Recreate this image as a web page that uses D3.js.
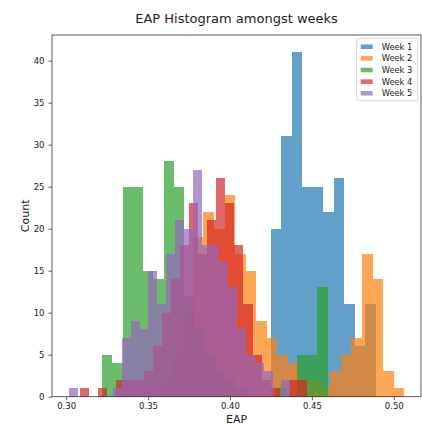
<!DOCTYPE html>
<html><head><meta charset="utf-8">
<script src="https://cdn.jsdelivr.net/npm/d3@7"></script>
<style>body{margin:0;background:#fff} text{font-family:"DejaVu Sans",sans-serif;fill:#222}</style>
</head><body><svg id="c" width="422" height="424"></svg>
<script>
const weekLabels = ["Week 1", "Week 2", "Week 3", "Week 4", "Week 5"];
const week1Range = [0.4249, 0.4891];
const week1Counts = [20, 31, 41, 25, 25, 22, 26, 11, 6, 11];
const week2Range = [0.3580, 0.5064];
const week2Counts = [2, 5, 10, 19, 22, 20, 24, 17, 15, 9, 7, 5, 4, 2, 2, 1, 3, 5, 7, 17, 14, 3, 1];
const week3Range = [0.3220, 0.4596];
const week3Counts = [5, 4, 25, 25, 15, 14, 28, 25, 12, 8, 5, 3, 2, 1, 0, 0, 0, 1, 0, 5, 5, 13];
const week4Range = [0.3084, 0.4471];
const week4Counts = [1, 0, 1, 0, 2, 2, 2, 3, 6, 10, 14, 18, 23, 17, 21, 26, 23, 18, 11, 5, 2, 1, 0, 2, 2];
const week5Range = [0.3016, 0.4368];
const week5Counts = [1, 0, 0, 0, 0, 1, 7, 9, 8, 15, 11, 17, 21, 20, 27, 18, 18, 16, 13, 8, 5, 4, 3, 0, 2];
const xTickValues = [0.30, 0.35, 0.40, 0.45, 0.50];
const yTickValues = [0, 5, 10, 15, 20, 25, 30, 35, 40];
const weekColors = ["#1f77b4", "#ff7f0e", "#2ca02c", "#d62728", "#9467bd"];

(function () {
const ranges = [week1Range, week2Range, week3Range, week4Range, week5Range];
const counts = [week1Counts, week2Counts, week3Counts, week4Counts, week5Counts];

const series = weekLabels.map((label, i) => {
  const [lo, hi] = ranges[i];
  const c = counts[i];
  const w = (hi - lo) / c.length;
  return {label, color: weekColors[i],
    bins: c.map((v, j) => ({x0: lo + j * w, x1: lo + (j + 1) * w, count: v}))};
});

const svg = d3.select("#c");
const pL = 52, pR = 421, pT = 35, pB = 396.7;

const xmin = d3.min(ranges, r => r[0]), xmax = d3.max(ranges, r => r[1]);
const pad = (xmax - xmin) * 0.05;
const x = d3.scaleLinear().domain([xmin - pad, xmax + pad]).range([pL, pR]);
const ymax = d3.max(counts, c => d3.max(c)) * 1.05;
const y = d3.scaleLinear().domain([0, ymax]).range([pB, pT]);

const plot = svg.append("g");
series.forEach(s => {
  plot.append("g").selectAll("rect")
    .data(s.bins.filter(b => b.count > 0))
    .join("rect")
    .attr("x", b => x(b.x0))
    .attr("width", b => x(b.x1) - x(b.x0))
    .attr("y", b => y(b.count))
    .attr("height", b => y(0) - y(b.count))
    .attr("fill", s.color)
    .attr("fill-opacity", 0.7)
    .attr("shape-rendering", "crispEdges");
});

const xAxis = d3.axisBottom(x).tickValues(xTickValues).tickFormat(d3.format(".2f")).tickSize(3.5).tickPadding(3);
const yAxis = d3.axisLeft(y).tickValues(yTickValues).tickSize(3.5).tickPadding(4);
const gx = svg.append("g").attr("transform", `translate(0,${pB})`).call(xAxis);
const gy = svg.append("g").attr("transform", `translate(${pL},0)`).call(yAxis);
[gx, gy].forEach(g => {
  g.select(".domain").remove();
  g.selectAll("line").attr("stroke", "#333").attr("stroke-width", 0.8);
  g.selectAll("text").attr("font-size", 8.5).attr("font-family", "DejaVu Sans").attr("fill", "#333");
});

svg.append("rect").attr("x", pL).attr("y", pT).attr("width", pR - pL).attr("height", pB - pT)
  .attr("fill", "none").attr("stroke", "#333").attr("stroke-width", 0.8);

svg.append("text").attr("x", (pL + pR) / 2).attr("y", 18).attr("text-anchor", "middle")
  .attr("dominant-baseline", "central").attr("font-size", 13).text("EAP Histogram amongst weeks");
svg.append("text").attr("x", (pL + pR) / 2).attr("y", 419).attr("text-anchor", "middle")
  .attr("dominant-baseline", "central").attr("font-size", 11).text("EAP");
svg.append("text").attr("transform", `translate(25.5,${(pT + pB) / 2}) rotate(-90)`)
  .attr("text-anchor", "middle").attr("dominant-baseline", "central").attr("font-size", 11).text("Count");

const lg = svg.append("g");
lg.append("rect").attr("x", 356.7).attr("y", 38.3).attr("width", 61).attr("height", 62.4)
  .attr("rx", 2).attr("fill", "#fff").attr("fill-opacity", 0.8).attr("stroke", "#ccc").attr("stroke-width", 0.8);
series.forEach((s, i) => {
  const cy = 46.7 + i * 11.65;
  lg.append("rect").attr("x", 360.7).attr("y", cy - 2.3).attr("width", 12).attr("height", 4.6)
    .attr("fill", s.color).attr("fill-opacity", 0.7);
  lg.append("text").attr("x", 381.7).attr("y", cy).attr("dominant-baseline", "central")
    .attr("font-size", 8.3).text(s.label);
});
})();
</script></body></html>
